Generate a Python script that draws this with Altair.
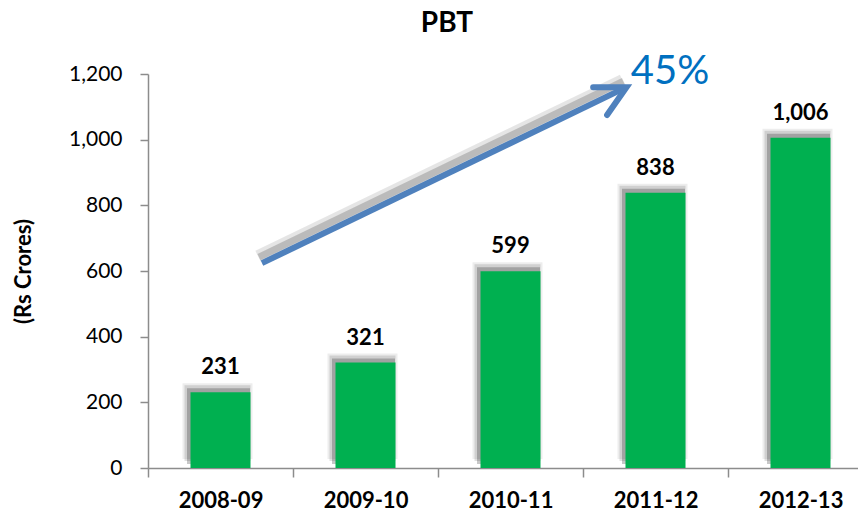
import altair as alt
import pandas as pd

years = ["2008-09", "2009-10", "2010-11", "2011-12", "2012-13"]
pbt = [231, 321, 599, 838, 1006]
y_ticks = [0, 200, 400, 600, 800, 1000, 1200]

# growth arrow annotation (x in category units, y in Rs Crores)
shaft_x = [0.786, 3.30]
shaft_y = [624, 1160]
head_x = [3.07, 3.30, 3.166]
head_y = [1160, 1160, 1075]
growth_label = ["45%"]
growth_x = [3.6]
growth_y = [1206]
title_text = ["PBT"]
title_x = [2.062]
title_y = [1328]

df = pd.DataFrame({"year": years, "value": pbt})
shaft = pd.DataFrame({"x": shaft_x, "value": shaft_y, "o": [0, 1]})
head = pd.DataFrame({"x": head_x, "value": head_y, "o": [0, 1, 2]})
lab = pd.DataFrame({"x": growth_x, "value": growth_y, "t": growth_label})
ttl = pd.DataFrame({"x": title_x, "value": title_y, "t": title_text})

GREEN = "#00B050"
BLUE = "#4F81BD"
AXIS = "#8C8C8C"
FONT = "Lato"

x_enc = alt.X(
    "year:N", sort=None,
    scale=alt.Scale(range=[0, 725], paddingInner=0, paddingOuter=0),
    axis=alt.Axis(title=None, labelFont=FONT, labelFontWeight="bold", labelFontSize=22,
                  labelColor="black", labelAngle=0, tickBand="extent", tickSize=9,
                  tickColor=AXIS, domainColor=AXIS, domainWidth=1.5, tickWidth=1.5,
                  labelPadding=13),
)
y_scale = alt.Scale(domain=[0, 1200], nice=False)
y_enc = alt.Y(
    "value:Q", scale=y_scale,
    axis=alt.Axis(values=y_ticks, labelExpr="format(datum.value, ',')", grid=False,
                  labelFont=FONT, labelFontSize=21,
                  labelColor="black", labelPadding=18, tickSize=8, tickColor=AXIS,
                  domainColor=AXIS, domainWidth=1.5, tickWidth=1.5,
                  title="(Rs Crores)", titleFont=FONT, titleFontSize=22, titleFontWeight="bold",
                  titleColor="black", titleAngle=-90, titleX=-113, titleY=197,
                  titleBaseline="bottom", titleAlign="center"),
)

base = alt.Chart(df).encode(x=x_enc, y=y_enc)
sh1 = base.mark_bar(color="black", opacity=0.07, size=70, xOffset=-3, yOffset=-9)
sh2 = base.mark_bar(color="black", opacity=0.12, size=66, xOffset=-3, yOffset=-7)
sh3 = base.mark_bar(color="black", opacity=0.22, size=63, xOffset=-2, yOffset=-4)
bars = base.mark_bar(color=GREEN, size=60)
vals = base.mark_text(font=FONT, fontSize=22, fontWeight="bold", color="black",
                      baseline="alphabetic", dy=-18).encode(text=alt.Text("value:Q", format=","))
bar_layer = alt.layer(sh1, sh2, sh3, bars, vals)

qx = alt.X("x:Q", scale=alt.Scale(domain=[0, 5], range=[0, 725], nice=False, zero=False), axis=None)

shaft_shadow1 = alt.Chart(shaft).mark_line(color="black", opacity=0.10, strokeWidth=12,
                                           xOffset=-4, yOffset=-7).encode(x=qx, y=y_enc, order="o:Q")
shaft_shadow2 = alt.Chart(shaft).mark_line(color="black", opacity=0.18, strokeWidth=7,
                                           xOffset=-3, yOffset=-6).encode(x=qx, y=y_enc, order="o:Q")
shaft_line = alt.Chart(shaft).mark_line(color=BLUE, strokeWidth=6, strokeCap="butt").encode(
    x=qx, y=y_enc, order="o:Q")
head_line = alt.Chart(head).mark_line(color=BLUE, strokeWidth=6, strokeCap="round",
                                      strokeJoin="miter").encode(x=qx, y=y_enc, order="o:Q")
pct = alt.Chart(lab).mark_text(font=FONT, fontSize=40, color="#0070C0", align="center",
                               baseline="middle").encode(x=qx, y=y_enc, text="t:N")
title = alt.Chart(ttl).mark_text(font=FONT, fontSize=28, fontWeight="bold", color="black",
                                 align="center", baseline="alphabetic").encode(
    x=qx, y=y_enc, text="t:N")
ann_layer = alt.layer(shaft_shadow1, shaft_shadow2, shaft_line, head_line, pct, title)

chart = alt.layer(bar_layer, ann_layer).resolve_scale(
    x="independent", y="shared"
).properties(
    width=710, height=394,
    autosize=alt.AutoSizeParams(type="none"),
    padding={"left": 140, "top": 66, "right": 0, "bottom": 46},
).configure_view(stroke=None)

chart.save("out.html", embed_options={"renderer": "svg", "actions": False})
